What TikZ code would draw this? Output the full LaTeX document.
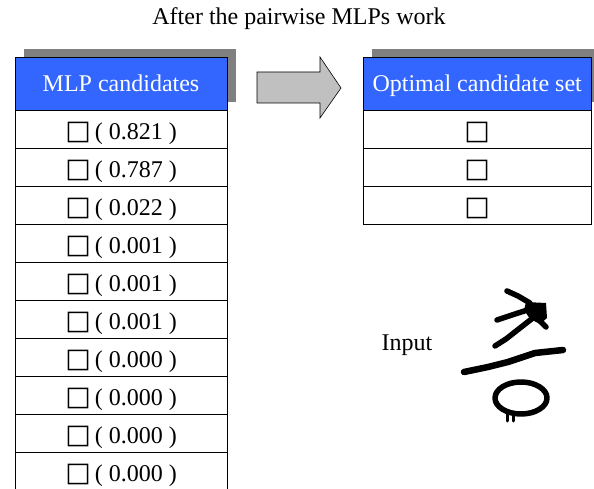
\documentclass[tikz,border=0pt]{standalone}
\usepackage{fontspec}
\setmainfont{Liberation Serif}
\newfontfamily\boxfont{DejaVu Sans}
\usetikzlibrary{shadows}
\definecolor{hdrblue}{RGB}{51,102,255}
\definecolor{shadowgray}{RGB}{128,128,128}
\definecolor{arrowgray}{RGB}{192,192,192}
\newcommand{\wsq}{{\boxfont\fontsize{27}{30}\selectfont □}}
\begin{document}
\begin{tikzpicture}[x=1pt,y=-1pt,
  bigfont/.style={font=\fontsize{24}{28}\selectfont},
  hdr/.style={bigfont, draw=black, line width=0.8pt, fill=hdrblue, text=white,
    minimum height=53pt, inner sep=0pt, text height=17pt, text depth=0pt,
    drop shadow={shadow xshift=8.5pt, shadow yshift=7.5pt, fill=shadowgray, opacity=1}},
  cell/.style={bigfont, draw=black, line width=0.8pt, fill=white,
    minimum height=38pt, inner sep=0pt, text height=22pt, text depth=1pt},
  leftcol/.style={minimum width=212pt},
  rightcol/.style={minimum width=228pt},
  glyph/.style={line width=5.5pt, line cap=round, line join=round, black}]
\useasboundingbox (0,0) rectangle (594,489);
\clip (0,0) rectangle (594,489);

% title
\node[bigfont, anchor=base] (title) at (299,25) {After the pairwise MLPs work};

% left table
\node[hdr, leftcol] (lhdr) at (121,83.5) {MLP candidates};
\foreach \v [count=\i] in {0.821,0.787,0.022,0.001,0.001,0.001,0.000,0.000,0.000,0.000}
  \node[cell, leftcol] (l\i) at (121,{91+38*\i}) {\wsq\hspace{4pt}( \v\ )};

% right table
\node[hdr, rightcol] (rhdr) at (477.2,83.5) {Optimal candidate set};
\foreach \i in {1,2,3}
  \node[cell, rightcol] (r\i) at (477.2,{91+38*\i}) {\wsq};

% arrow
\draw[fill=arrowgray, line width=0.6pt] (257,72) -- (320,72) -- (320,57) -- (341,88)
  -- (320,118) -- (320,103) -- (257,103) -- cycle;

% input label
\node[bigfont, anchor=base west, inner sep=0pt] (input) at (381.5,350) {Input};

% handwritten character
\draw[glyph] (507,291) -- (518,296) -- (530,303);
\fill (526,302) -- (546,303) -- (547,318) -- (540,324) -- (530,319) -- (524,310) -- cycle;
\draw[glyph] (497,320) -- (515,314) -- (540,306);
\draw[glyph] (538,314) -- (520,328) -- (506,339) -- (495,346);
\draw[glyph] (537,318) -- (546,327);
\draw[glyph, line width=6.5pt] (464,372) -- (488,367) -- (508,362) -- (535,353) -- (563,350);
\draw[glyph] (521,398) ellipse (26pt and 16pt);
\draw[glyph, line width=3pt] (507,414) -- (507,421);
\draw[glyph, line width=3pt] (513,414) -- (513,421);
\end{tikzpicture}
\end{document}
